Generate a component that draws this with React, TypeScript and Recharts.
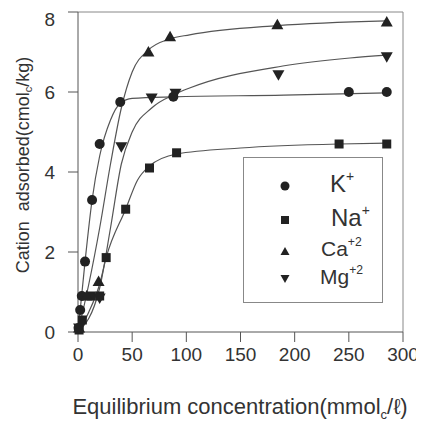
import { ComposedChart, Line, Scatter, XAxis, YAxis, ReferenceLine, Label } from 'recharts';

// measured points (equilibrium conc., adsorbed)
const kConc = [0.5, 2, 3.5, 6.5, 13, 20, 39, 88, 250, 285];
const kAds = [0.1, 0.55, 0.9, 1.76, 3.3, 4.7, 5.75, 5.88, 6.0, 6.0];
const naConc = [1, 4, 12, 20, 26, 44, 66, 91, 241, 285];
const naAds = [0.05, 0.3, 0.9, 0.9, 1.86, 3.07, 4.1, 4.48, 4.7, 4.7];
const caConc = [1, 8, 19, 65, 85, 184, 285];
const caAds = [0.1, 0.9, 1.26, 7.0, 7.38, 7.68, 7.75];
const mgConc = [1, 20, 40, 68, 90, 185, 285];
const mgAds = [0.1, 0.85, 4.63, 5.85, 5.97, 6.43, 6.88];

// fitted isotherm curves
const kFitConc = [0, 6.5, 13, 20, 30, 39, 50, 88, 190, 285];
const kFitAds = [0, 1.76, 3.3, 4.4, 5.3, 5.72, 5.84, 5.88, 5.92, 5.98];
const naFitConc = [0, 10, 20, 26, 44, 55, 66, 91, 150, 241, 285];
const naFitAds = [0, 0.5, 1.2, 1.86, 3.07, 3.8, 4.15, 4.45, 4.6, 4.7, 4.72];
const caFitConc = [0, 10, 20, 30, 40, 50, 65, 85, 103, 184, 285];
const caFitAds = [0, 1.2, 2.6, 4.2, 5.6, 6.5, 7.05, 7.33, 7.43, 7.66, 7.78];
const mgFitConc = [0, 20, 30, 40, 50, 68, 90, 103, 189, 251, 285];
const mgFitAds = [0, 1.1, 2.6, 4.2, 5.0, 5.6, 5.95, 6.1, 6.65, 6.85, 6.92];

const xTicks = [0, 50, 100, 150, 200, 250, 300];
const yTicks = [0, 2, 4, 6, 8];

const pts = (xs: number[], ys: number[]) => xs.map((x, i) => ({ x, y: ys[i] }));

const INK = '#222';
const FONT = '"Liberation Sans", Arial, sans-serif';

const Dot = (p: any) => <circle cx={p.cx} cy={p.cy} r={5} fill={INK} />;
const Sq = (p: any) => <rect x={p.cx - 4.5} y={p.cy - 4.5} width={9} height={9} fill={INK} />;
const Up = (p: any) => (
  <polygon points={`${p.cx},${p.cy - 6} ${p.cx - 6},${p.cy + 4.5} ${p.cx + 6},${p.cy + 4.5}`} fill={INK} />
);
const Down = (p: any) => (
  <polygon points={`${p.cx},${p.cy + 6} ${p.cx - 6},${p.cy - 4.5} ${p.cx + 6},${p.cy - 4.5}`} fill={INK} />
);

const XTitle = () => (
  <text x={232} y={406} textAnchor="middle" fontSize={22} fill="#333" fontFamily={FONT}>
    Equilibrium concentration(mmol
    <tspan fontSize={13} dy={5}>c</tspan>
    <tspan dy={-5}>/ℓ)</tspan>
  </text>
);

const YTitle = () => {
  const cx = 15;
  const cy = 157;
  return (
    <text
      x={cx}
      y={cy}
      transform={`rotate(-90 ${cx} ${cy})`}
      textAnchor="middle"
      dominantBaseline="central"
      fontSize={18}
      fill="#333"
      fontFamily={FONT}
      style={{ whiteSpace: 'pre' }}
    >
      {'Cation  adsorbed(cmol'}
      <tspan fontSize={11} dy={5}>c</tspan>
      <tspan dy={-5}>/kg)</tspan>
    </text>
  );
};

const legendRows = [
  { name: 'K', sup: '+', marker: 'circle', top: 28, textLeft: 86, size: 24 },
  { name: 'Na', sup: '+', marker: 'square', top: 62, textLeft: 87, size: 24 },
  { name: 'Ca', sup: '+2', marker: 'up', top: 93, textLeft: 77, size: 21 },
  { name: 'Mg', sup: '+2', marker: 'down', top: 121, textLeft: 76, size: 21 },
];

function LegendMarker({ kind }: { kind: string }) {
  return (
    <svg width={14} height={14} style={{ position: 'absolute', left: 34, top: -7 }}>
      {kind === 'circle' && <circle cx={7} cy={7} r={4.5} fill={INK} />}
      {kind === 'square' && <rect x={3} y={3} width={8} height={8} fill={INK} />}
      {kind === 'up' && <polygon points="7,3 2.5,11 11.5,11" fill={INK} />}
      {kind === 'down' && <polygon points="7,11 2.5,3 11.5,3" fill={INK} />}
    </svg>
  );
}

export default function App() {
  return (
    <div style={{ position: 'relative', width: 416, height: 418, fontFamily: FONT }}>
      <ComposedChart width={416} height={418} margin={{ top: 4, right: 21, bottom: 0, left: 0 }}>
        <XAxis
          type="number"
          dataKey="x"
          domain={[0, 300]}
          ticks={xTicks}
          height={94}
          tickSize={10}
          tickMargin={6}
          stroke="#555"
          tick={{ fill: '#333', fontSize: 19, fontFamily: FONT }}
          allowDuplicatedCategory={false}
        >
          <Label content={XTitle} />
        </XAxis>
        <YAxis
          type="number"
          dataKey="y"
          domain={[0, 8]}
          ticks={yTicks}
          width={70}
          tickSize={10}
          tickMargin={13}
          stroke="#555"
          tick={{ fill: '#333', fontSize: 19, fontFamily: FONT }}
        >
          <Label content={YTitle} />
        </YAxis>
        <ReferenceLine y={8} stroke="#888" />
        <ReferenceLine x={300} stroke="#888" />

        <Line data={pts(kFitConc, kFitAds)} dataKey="y" type="monotone" stroke="#555" strokeWidth={1.2} dot={false} isAnimationActive={false} />
        <Line data={pts(naFitConc, naFitAds)} dataKey="y" type="monotone" stroke="#555" strokeWidth={1.2} dot={false} isAnimationActive={false} />
        <Line data={pts(caFitConc, caFitAds)} dataKey="y" type="monotone" stroke="#555" strokeWidth={1.2} dot={false} isAnimationActive={false} />
        <Line data={pts(mgFitConc, mgFitAds)} dataKey="y" type="monotone" stroke="#555" strokeWidth={1.2} dot={false} isAnimationActive={false} />

        <Scatter data={pts(kConc, kAds)} dataKey="y" shape={Dot} isAnimationActive={false} />
        <Scatter data={pts(naConc, naAds)} dataKey="y" shape={Sq} isAnimationActive={false} />
        <Scatter data={pts(caConc, caAds)} dataKey="y" shape={Up} isAnimationActive={false} />
        <Scatter data={pts(mgConc, mgAds)} dataKey="y" shape={Down} isAnimationActive={false} />
      </ComposedChart>

      <div
        style={{
          position: 'absolute',
          left: 235,
          top: 149,
          width: 140,
          height: 146,
          border: '1px solid #888',
          background: '#fff',
          boxSizing: 'border-box',
          color: '#333',
        }}
      >
        {legendRows.map((r) => (
          <div key={r.name} style={{ position: 'absolute', left: 0, top: r.top, width: '100%' }}>
            <LegendMarker kind={r.marker} />
            <span
              style={{
                position: 'absolute',
                left: r.textLeft,
                top: -r.size * 0.6,
                fontSize: r.size,
                lineHeight: 1,
                whiteSpace: 'nowrap',
              }}
            >
              {r.name}
              <sup style={{ fontSize: r.size * 0.58, verticalAlign: 'top', position: 'relative', top: -2 }}>{r.sup}</sup>
            </span>
          </div>
        ))}
      </div>
    </div>
  );
}
